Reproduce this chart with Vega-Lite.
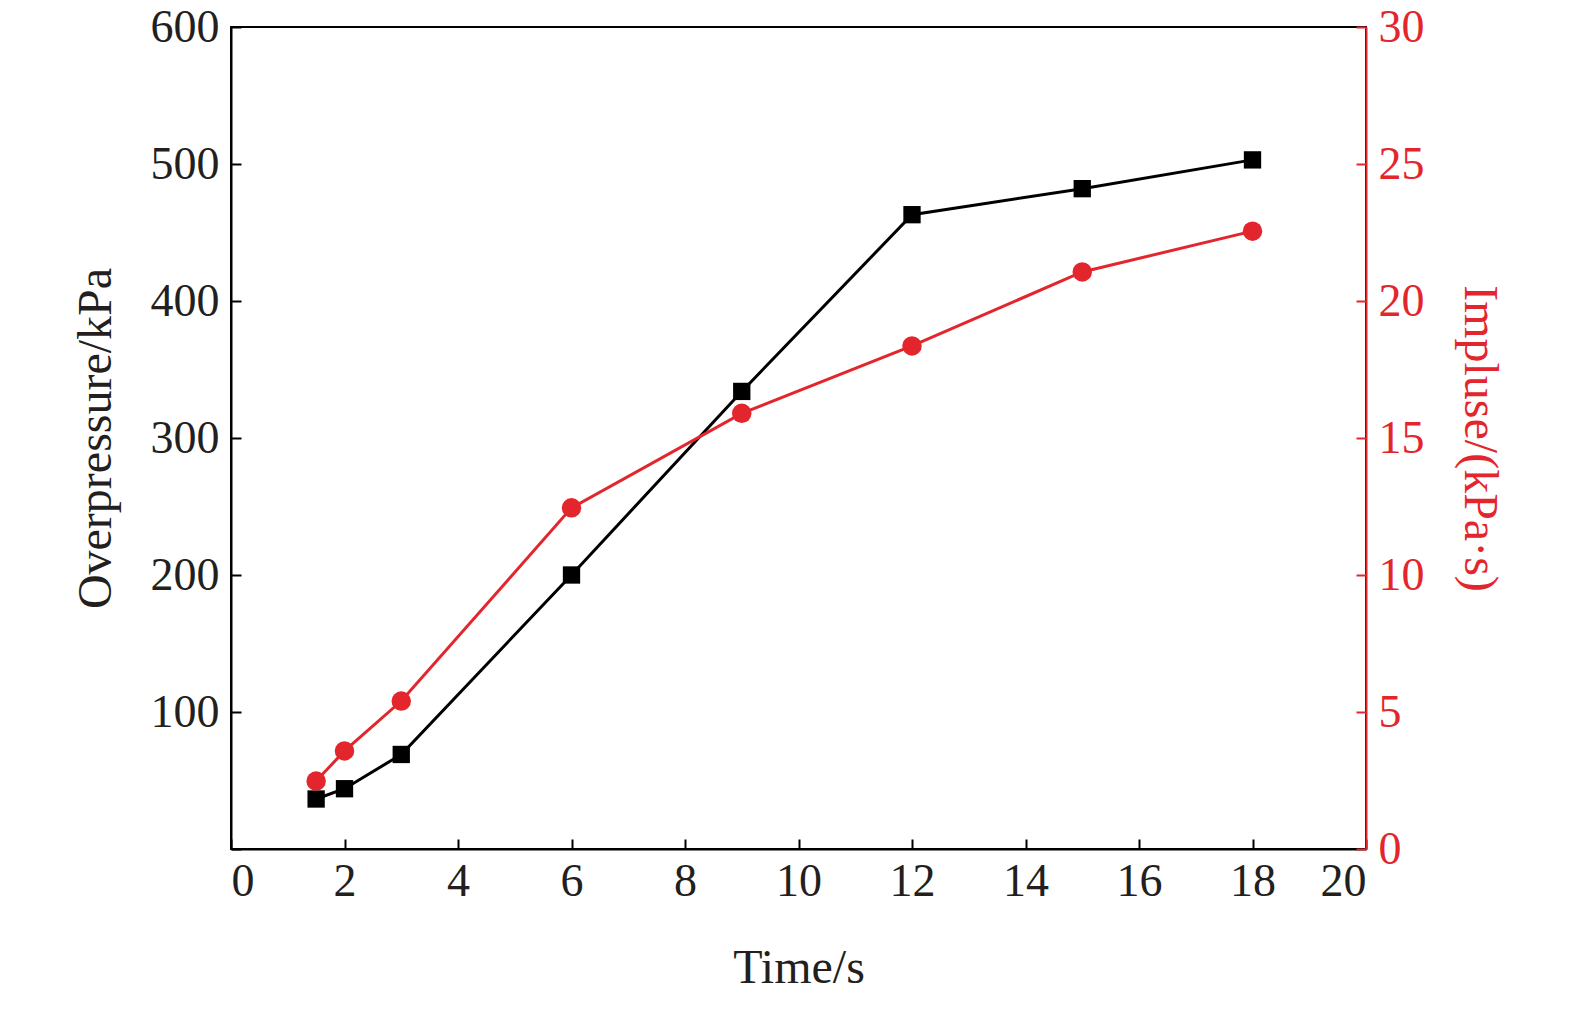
{
"$schema":"https://vega.github.io/schema/vega-lite/v6.json",
"width":1135,"height":822,
"autosize":{"type":"none"},
"padding":{"left":231,"top":27,"right":209,"bottom":173},
"background":"white",
"config":{"view":{"stroke":"black","strokeWidth":2},"font":"Liberation Serif",
"axis":{"labelFont":"Liberation Serif","titleFont":"Liberation Serif","labelFontSize":46,"titleFontSize":48,"titleFontWeight":"normal","grid":false,"domainWidth":2,"tickWidth":2,"tickSize":-10,"labelPadding":22}},
"data":{"values":[
{"t":1.5,"p":36.5,"i":2.48},{"t":2,"p":44,"i":3.58},{"t":3,"p":69,"i":5.4},{"t":6,"p":200,"i":12.45},
{"t":9,"p":334,"i":15.9},{"t":12,"p":463,"i":18.36},{"t":15,"p":482,"i":21.06},{"t":18,"p":503,"i":22.55}]},
"encoding":{"x":{"field":"t","type":"quantitative","scale":{"domain":[0,20],"nice":false},
"axis":{"title":"Time/s","values":[0,2,4,6,8,10,12,14,16,18,20],"domainColor":"black","tickColor":"black","labelColor":"#231f20","titleColor":"#231f20","titlePadding":40,"labelPadding":20}}},
"layer":[
{"layer":[{"mark":{"type":"line","color":"black","strokeWidth":3}},{"mark":{"type":"square","color":"black","opacity":1,"filled":true,"size":300}}],
"encoding":{"y":{"field":"p","type":"quantitative","scale":{"domain":[0,600],"nice":false},
"axis":{"title":"Overpressure/kPa","values":[0,100,200,300,400,500,600],"labelExpr":"datum.value==0?'':datum.label","domainColor":"black","tickColor":"black","labelColor":"#231f20","titleColor":"#231f20","titlePadding":30}}}},
{"layer":[{"mark":{"type":"line","color":"#e3262d","strokeWidth":3}},{"mark":{"type":"circle","color":"#e3262d","opacity":1,"size":380}}],
"encoding":{"y":{"field":"i","type":"quantitative","scale":{"domain":[0,30],"nice":false},
"axis":{"orient":"right","title":"Impluse/(kPa·s)","values":[0,5,10,15,20,25,30],"domainColor":"#e3262d","tickColor":"#e3262d","labelColor":"#e3262d","titleColor":"#e3262d","titlePadding":30}}}}
],
"resolve":{"scale":{"y":"independent"}}
}
